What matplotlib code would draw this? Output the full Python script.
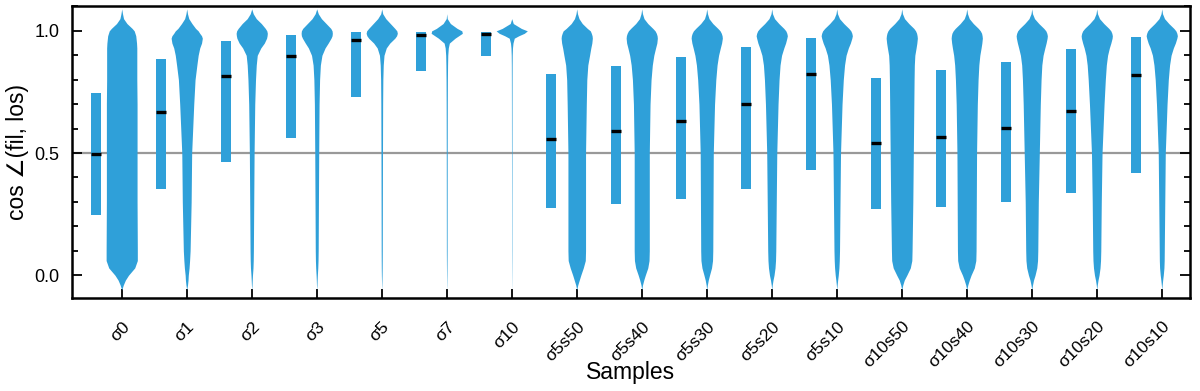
import numpy as np
import matplotlib
matplotlib.use("Agg")
import matplotlib.pyplot as plt
from matplotlib.ticker import MultipleLocator

plt.rcParams['font.family'] = ['Liberation Sans', 'DejaVu Sans']

# sample names
samples = ["σ0", "σ1", "σ2", "σ3", "σ5", "σ7", "σ10",
           "σ5s50", "σ5s40", "σ5s30", "σ5s20", "σ5s10",
           "σ10s50", "σ10s40", "σ10s30", "σ10s20", "σ10s10"]

# bar range (low, high) and median
bar_low = [0.246, 0.351, 0.464, 0.563, 0.728, 0.836, 0.898,
           0.277, 0.291, 0.311, 0.354, 0.432,
           0.269, 0.279, 0.299, 0.335, 0.418]
bar_high = [0.747, 0.884, 0.959, 0.985, 0.995, 0.997, 0.997,
            0.825, 0.857, 0.893, 0.936, 0.971,
            0.809, 0.839, 0.874, 0.925, 0.974]
medians = [0.497, 0.667, 0.817, 0.899, 0.962, 0.982, 0.988,
           0.556, 0.589, 0.632, 0.702, 0.824,
           0.540, 0.566, 0.601, 0.672, 0.820]

# violin density profiles (relative width) at these cos values
dens_y = [-0.06, -0.04, -0.02, 0.0, 0.03, 0.06, 0.1, 0.3, 0.5, 0.7, 0.8, 0.86,
          0.9, 0.93, 0.95, 0.97, 0.98, 0.99, 1.0, 1.01, 1.03, 1.05, 1.07, 1.09]

d_s0 = [0, 3, 7, 13, 25, 30, 30, 29.5, 29.5, 29.5, 29, 29,
        29, 29, 28.5, 27.5, 27, 25.5, 24, 20, 10, 3.5, 1.5, 0]
d_s1 = [0, 1.5, 2.5, 3, 4.5, 5.5, 6.5, 8.5, 9.5, 13.5, 16, 19.5,
        22, 25, 28.5, 30, 28.5, 25, 22, 17, 10, 4, 1.5, 0]
d_s2 = [0, 0.6, 1, 1.5, 2.5, 3, 3.3, 4, 4.7, 6, 7.5, 9,
        11, 18, 25, 29.5, 30.5, 31, 30, 27, 19, 9, 3, 0]
d_s3 = [0, 0.5, 0.8, 1.2, 2, 2.5, 2.8, 3.3, 3.8, 4.5, 5.5, 7,
        10, 16, 22, 27.5, 29.5, 30, 29.5, 27, 18, 9, 3, 0]
d_s5 = [0, 0.3, 0.5, 0.7, 0.9, 1, 1.1, 1.3, 1.5, 1.8, 2.2, 3,
        4.5, 9, 16, 26, 29.5, 31, 30, 26, 17, 8, 2, 0]
d_s7 = [0, 0.2, 0.3, 0.4, 0.5, 0.6, 0.7, 0.8, 0.9, 1.1, 1.3, 1.6,
        2, 3, 5, 16, 23, 30, 29, 20, 7, 1, 0, 0]
d_s10 = [0, 0.1, 0.15, 0.2, 0.25, 0.3, 0.35, 0.4, 0.5, 0.6, 0.7, 0.8,
         1, 1.5, 2.5, 5, 14, 25, 31, 19, 3, 0, 0, 0]
d_s5s50 = [0, 2, 5, 8, 13, 17, 17.5, 17.5, 17.5, 19, 20, 22,
           25.5, 28, 30, 31, 30.5, 29, 27, 21, 11, 4.5, 1.5, 0]
d_s5s40 = [0, 1.5, 4, 7, 12, 14.5, 15, 15, 15, 16.5, 18.5, 21,
           24, 27.5, 30, 31, 30.5, 29, 26.5, 22, 12, 4.5, 1.5, 0]
d_s5s30 = [0, 1.2, 3, 5.5, 9.5, 11.5, 12, 12.5, 13, 15.5, 18, 20.5,
           23.5, 27, 29.5, 31, 30.5, 29, 26.5, 22, 12, 4.5, 1.5, 0]
d_s5s20 = [0, 1, 2.5, 4.5, 6.5, 7.5, 8, 9, 10, 12.5, 14.5, 16.5,
           19.5, 24, 27.5, 30, 31, 30, 28, 24, 14, 5.5, 1.5, 0]
d_s5s10 = [0, 0.8, 1.8, 3, 4.3, 5, 5.5, 6.5, 7.5, 10.5, 13, 15.5,
           18.5, 23, 27, 30, 31, 30, 28, 24, 14, 5.5, 1.5, 0]
d_s10s50 = [0, 2, 5, 10, 17, 20, 20.5, 22, 23, 24, 24.5, 25,
            26, 28.5, 30, 31, 30.5, 29.5, 27.5, 24, 14, 5.5, 1.5, 0]
d_s10s40 = [0, 2, 5, 8.5, 15, 18, 18.5, 19, 19.5, 21, 22.5, 24,
            26, 28.5, 30, 31, 30.5, 29.5, 27, 23, 13, 5, 1.5, 0]
d_s10s30 = [0, 1.5, 3.5, 6.5, 10, 11.5, 12, 13, 15, 17, 18.5, 20,
            22.5, 26, 28.5, 30.5, 31, 30, 28, 24, 14, 5.5, 1.5, 0]
d_s10s20 = [0, 1, 2.5, 4.5, 6.5, 7.5, 8, 9, 10.5, 14.5, 17, 19,
            21.5, 25, 28, 30.5, 31, 30, 28, 24, 14, 5.5, 1.5, 0]
d_s10s10 = [0, 0.8, 1.8, 3, 4.3, 4.8, 5, 6, 7, 10.5, 13, 15.5,
            18.5, 23, 27, 30, 31, 30, 28, 24, 14, 5.5, 1.5, 0]

densities = [d_s0, d_s1, d_s2, d_s3, d_s5, d_s7, d_s10,
             d_s5s50, d_s5s40, d_s5s30, d_s5s20, d_s5s10,
             d_s10s50, d_s10s40, d_s10s30, d_s10s20, d_s10s10]

blue = '#2FA0D9'
violin_width = 0.48
bar_width = 0.155
bar_offset = -0.4

fig = plt.figure(figsize=(12, 3.91), dpi=100)
ax = fig.add_axes([0.06, 0.238, 0.9317, 0.7468])

ax.axhline(0.5, color='#999999', lw=1.6, zorder=0)

x = np.arange(len(samples))
for i in x:
    d = np.array(densities[i], dtype=float)
    w = d / d.max() * violin_width / 2
    ax.fill_betweenx(dens_y, i - w, i + w, color=blue, lw=0, zorder=2)

ax.bar(x + bar_offset, np.array(bar_high) - np.array(bar_low), bottom=bar_low,
       width=bar_width, color=blue, lw=0, zorder=2)
ax.hlines(medians, x + bar_offset - bar_width / 2, x + bar_offset + bar_width / 2,
          color='black', lw=2.4, zorder=3)

ax.set_xlim(-0.765, 16.435)
ax.set_ylim(-0.093, 1.102)
ax.set_xticks(x)
ax.set_xticklabels(samples, rotation=45, ha='right', rotation_mode='anchor', fontsize=12.5)
ax.set_yticks([0.0, 0.5, 1.0])
ax.set_yticklabels(["0.0", "0.5", "1.0"], fontsize=13)
ax.yaxis.set_minor_locator(MultipleLocator(0.1))

ax.tick_params(axis='y', which='major', direction='in', length=7, width=1.3,
               left=True, right=True, pad=9)
ax.tick_params(axis='y', which='minor', direction='in', length=4, width=1.3,
               left=True, right=True)
ax.tick_params(axis='x', which='major', direction='in', length=6.5, width=1.3,
               bottom=True, top=False, pad=15)
for sp in ax.spines.values():
    sp.set_linewidth(1.8)

ax.set_xlabel("Samples", fontsize=16.5)
ax.xaxis.set_label_coords(0.5, -0.215)
ax.set_ylabel("cos ∠(fil, los)", fontsize=16.5, labelpad=4)

fig.savefig("out.png", dpi=100)
